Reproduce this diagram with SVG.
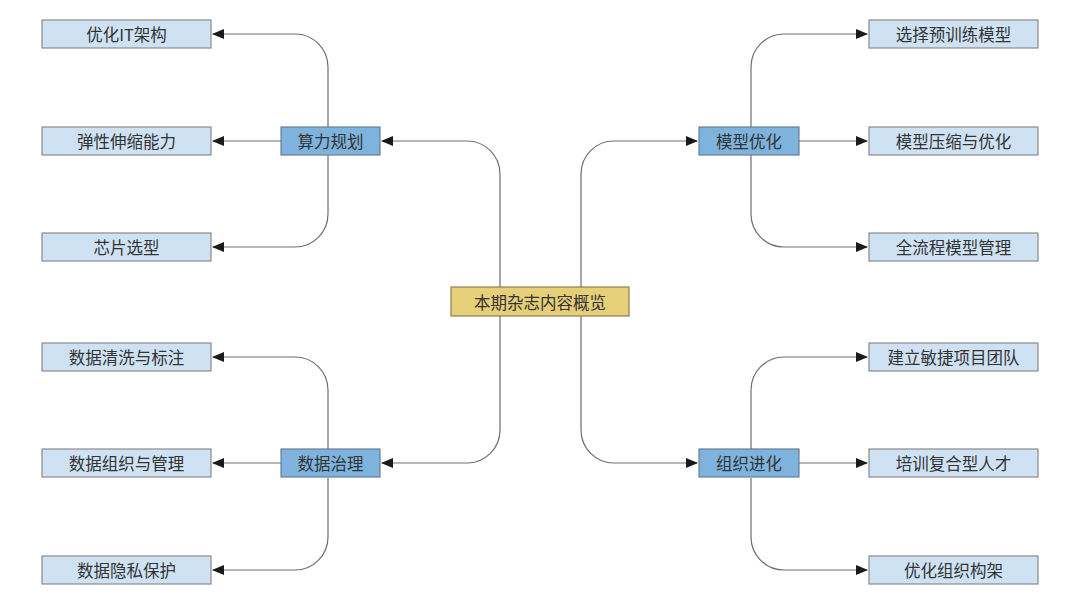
<svg xmlns="http://www.w3.org/2000/svg" width="1080" height="605" viewBox="0 0 1080 605">
<style>
.leaf{fill:#cfe2f3;stroke:#8a8a8a;stroke-width:1.2}
.mid{fill:#7eb3de;stroke:#6a7e90;stroke-width:1.2}
.root{fill:#e6cf79;stroke:#8a7e50;stroke-width:1.2}
text{font-family:"Noto Sans CJK SC","Noto Sans",sans-serif;font-size:16.5px;fill:#333;text-anchor:middle;dominant-baseline:central}
.c{fill:none;stroke:#6e6e6e;stroke-width:1.2}
</style>
<defs>
<marker id="ah" markerWidth="12" markerHeight="10" refX="11" refY="5" orient="auto" markerUnits="userSpaceOnUse">
<path d="M0,0 L12,5 L0,10 Z" fill="#1a1a1a"/>
</marker>
</defs>
<rect width="1080" height="605" fill="#fff"/>
<g id="connectors">
<!-- root to mids -->
<path class="c" d="M500,430 L500,174 A33,33 0 0 0 467,141 L382,141" marker-end="url(#ah)"/>
<path class="c" d="M500,430 A33,33 0 0 1 467,463 L382,463" marker-end="url(#ah)"/>
<path class="c" d="M581,430 L581,174 A33,33 0 0 1 614,141 L697,141" marker-end="url(#ah)"/>
<path class="c" d="M581,430 A33,33 0 0 0 614,463 L697,463" marker-end="url(#ah)"/>
<!-- 算力规划 -->
<path class="c" d="M328,127 L328,67 A33,33 0 0 0 295,34 L213,34" marker-end="url(#ah)"/>
<path class="c" d="M281,141 L213,141" marker-end="url(#ah)"/>
<path class="c" d="M328,155 L328,214 A33,33 0 0 1 295,247 L213,247" marker-end="url(#ah)"/>
<!-- 数据治理 -->
<path class="c" d="M328,449 L328,390 A33,33 0 0 0 295,357 L213,357" marker-end="url(#ah)"/>
<path class="c" d="M281,463 L213,463" marker-end="url(#ah)"/>
<path class="c" d="M328,478 L328,537 A33,33 0 0 1 295,570 L213,570" marker-end="url(#ah)"/>
<!-- 模型优化 -->
<path class="c" d="M751,127 L751,67 A33,33 0 0 1 784,34 L867,34" marker-end="url(#ah)"/>
<path class="c" d="M799,141 L867,141" marker-end="url(#ah)"/>
<path class="c" d="M751,155 L751,214 A33,33 0 0 0 784,247 L867,247" marker-end="url(#ah)"/>
<!-- 组织进化 -->
<path class="c" d="M751,449 L751,390 A33,33 0 0 1 784,357 L867,357" marker-end="url(#ah)"/>
<path class="c" d="M799,463 L867,463" marker-end="url(#ah)"/>
<path class="c" d="M751,478 L751,537 A33,33 0 0 0 784,570 L867,570" marker-end="url(#ah)"/>
</g>
<g id="root"><rect class="root" x="451" y="287" width="178" height="29"/><text x="540" y="301.5">本期杂志内容概览</text></g>
<g id="m1"><rect class="mid" x="281" y="127" width="99" height="28"/><text x="330.5" y="141">算力规划</text></g>
<g id="m2"><rect class="mid" x="281" y="449" width="99" height="28"/><text x="330.5" y="463">数据治理</text></g>
<g id="m3"><rect class="mid" x="699" y="127" width="100" height="28"/><text x="749" y="141">模型优化</text></g>
<g id="m4"><rect class="mid" x="699" y="449" width="100" height="28"/><text x="749" y="463">组织进化</text></g>
<g id="l1"><rect class="leaf" x="42" y="20" width="169" height="28"/><text x="126.5" y="34">优化IT架构</text></g>
<g id="l2"><rect class="leaf" x="42" y="127" width="169" height="28"/><text x="126.5" y="141">弹性伸缩能力</text></g>
<g id="l3"><rect class="leaf" x="42" y="233" width="169" height="28"/><text x="126.5" y="247">芯片选型</text></g>
<g id="l4"><rect class="leaf" x="42" y="343" width="169" height="28"/><text x="126.5" y="357">数据清洗与标注</text></g>
<g id="l5"><rect class="leaf" x="42" y="449" width="169" height="28"/><text x="126.5" y="463">数据组织与管理</text></g>
<g id="l6"><rect class="leaf" x="42" y="556" width="169" height="28"/><text x="126.5" y="570">数据隐私保护</text></g>
<g id="r1"><rect class="leaf" x="869" y="20" width="169" height="28"/><text x="953.5" y="34">选择预训练模型</text></g>
<g id="r2"><rect class="leaf" x="869" y="127" width="169" height="28"/><text x="953.5" y="141">模型压缩与优化</text></g>
<g id="r3"><rect class="leaf" x="869" y="233" width="169" height="28"/><text x="953.5" y="247">全流程模型管理</text></g>
<g id="r4"><rect class="leaf" x="869" y="343" width="169" height="28"/><text x="953.5" y="357">建立敏捷项目团队</text></g>
<g id="r5"><rect class="leaf" x="869" y="449" width="169" height="28"/><text x="953.5" y="463">培训复合型人才</text></g>
<g id="r6"><rect class="leaf" x="869" y="556" width="169" height="28"/><text x="953.5" y="570">优化组织构架</text></g>
</svg>
